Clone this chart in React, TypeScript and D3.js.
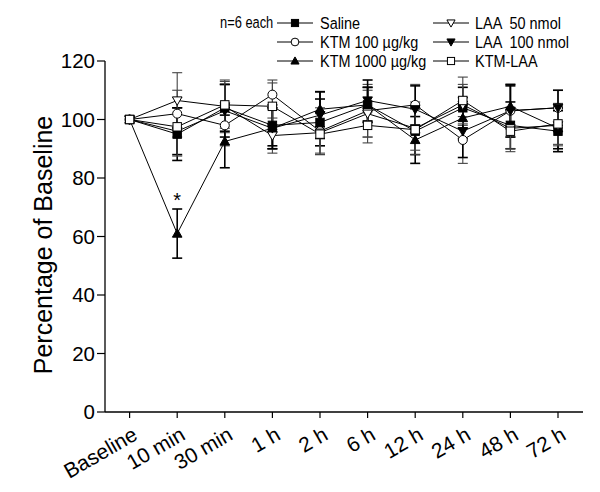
import React from "react";
import * as d3 from "d3";

const categories = ["Baseline", "10 min", "30 min", "1 h", "2 h", "6 h", "12 h", "24 h", "48 h", "72 h"];
const yTicks = [0, 20, 40, 60, 80, 100, 120];

const salineMean = [100, 95, 104, 98, 99, 105, 96, 104, 98, 96];
const salineErr = [0, 9, 8, 7, 8, 6, 8, 7, 8, 7];
const ktm100Mean = [100, 102, 98, 108.5, 96, 103, 105, 93, 103, 104];
const ktm100Err = [0, 8, 7, 5, 8, 9, 7, 8, 9, 6];
const ktm1000Mean = [100, 61, 92.5, 97, 103.5, 105, 93, 100.5, 104.5, 97];
const ktm1000Err = [0, 8.4, 9, 7, 6, 6, 8, 7, 7, 7];
const laa50Mean = [100, 106.5, 104.5, 94.5, 95.5, 102, 97, 105, 97, 98];
const laa50Err = [0, 9.5, 9, 6, 7, 8, 9, 7, 7, 7];
const laa100Mean = [100, 96, 103, 97, 101.5, 106.5, 103.5, 96, 103, 104];
const laa100Err = [0, 8, 9, 7, 8, 7, 8, 9, 9, 6];
const ktmLaaMean = [100, 97.5, 105, 104.5, 95, 98, 96.5, 106.5, 96, 98.5];
const ktmLaaErr = [0, 10, 8, 8, 7, 6, 7, 8, 7, 7];

type Shape = "square" | "circle" | "up" | "down";
const series = [
  { name: "Saline", mean: salineMean, err: salineErr, shape: "square" as Shape, filled: true },
  { name: "KTM 100 µg/kg", mean: ktm100Mean, err: ktm100Err, shape: "circle" as Shape, filled: false },
  { name: "KTM 1000 µg/kg", mean: ktm1000Mean, err: ktm1000Err, shape: "up" as Shape, filled: true },
  { name: "LAA  50 nmol", mean: laa50Mean, err: laa50Err, shape: "down" as Shape, filled: false },
  { name: "LAA  100 nmol", mean: laa100Mean, err: laa100Err, shape: "down" as Shape, filled: true },
  { name: "KTM-LAA", mean: ktmLaaMean, err: ktmLaaErr, shape: "square" as Shape, filled: false },
];

const FONT = "'Liberation Sans', Arial, sans-serif";

function Marker({ shape, filled, x, y, s = 1 }: { shape: Shape; filled: boolean; x: number; y: number; s?: number }) {
  const fill = filled ? "#000" : "#fff";
  const common = { fill, stroke: "#000", strokeWidth: 1 };
  const r = 4.2 * s;
  if (shape === "square") return <rect x={x - r} y={y - r} width={2 * r} height={2 * r} {...common} />;
  if (shape === "circle") return <circle cx={x} cy={y} r={r + 0.3} {...common} />;
  const h = 4.8 * s;
  if (shape === "up")
    return <path d={`M${x},${y - h}L${x + h},${y + h * 0.75}L${x - h},${y + h * 0.75}Z`} {...common} />;
  return <path d={`M${x},${y + h}L${x + h},${y - h * 0.75}L${x - h},${y - h * 0.75}Z`} {...common} />;
}

export default function App() {
  const W = 600, H = 492;
  const x = d3.scalePoint<string>().domain(categories).range([129.6, 558]);
  const y = d3.scaleLinear().domain([0, 120]).range([412, 61]);
  const line = d3.line<number>().x((_, i) => x(categories[i])!).y((d) => y(d));
  const axisX0 = 105;
  const axisX1 = 583;
  const legendCols = [
    { sx: 277, tx: 320 },
    { sx: 433, tx: 475 },
  ];
  const legendRows = [23, 42, 61];
  return (
    <svg width={W} height={H} style={{ display: "block", position: "absolute", left: 0, top: 0 }} fontFamily={FONT}>
      <rect width={W} height={H} fill="#fff" />
      {/* axes */}
      <line x1={axisX0} x2={axisX0} y1={y(0)} y2={y(120)} stroke="#000" strokeWidth={1.3} />
      <line x1={axisX0} x2={axisX1} y1={y(0)} y2={y(0)} stroke="#000" strokeWidth={1.3} />
      {yTicks.map((t) => (
        <g key={t}>
          <line x1={axisX0 - 8} x2={axisX0} y1={y(t)} y2={y(t)} stroke="#000" strokeWidth={1.2} />
          <text x={axisX0 - 10} y={y(t)} dy="0.36em" textAnchor="end" fontSize={20.5}>
            {t}
          </text>
        </g>
      ))}
      {categories.map((c) => (
        <g key={c}>
          <line x1={x(c)} x2={x(c)} y1={y(0)} y2={y(0) + 6} stroke="#000" strokeWidth={1.2} />
          <text
            transform={`translate(${x(c)! + 2},${y(0) + 14}) rotate(-30)`}
            textAnchor="end"
            fontSize={21}
            dy="0.7em"
          >
            {c}
          </text>
        </g>
      ))}
      <text
        transform={`translate(${52},${245}) rotate(-90)`}
        textAnchor="middle"
        fontSize={25}
      >
        Percentage of Baseline
      </text>
      {/* lines */}
      {series.map((s) => (
        <path key={s.name + "l"} d={line(s.mean)!} fill="none" stroke="#000" strokeWidth={1} />
      ))}
      {/* error bars */}
      {series.map((s) =>
        s.mean.map((m, i) =>
          s.err[i] > 0 ? (
            <g key={s.name + "e" + i} stroke={s.filled ? "#000" : "#444"} strokeWidth={s.filled ? 1.6 : 1.1}>
              <line x1={x(categories[i])} x2={x(categories[i])} y1={y(m - s.err[i])} y2={y(m + s.err[i])} />
              <line x1={x(categories[i])! - 5} x2={x(categories[i])! + 5} y1={y(m + s.err[i])} y2={y(m + s.err[i])} />
              <line x1={x(categories[i])! - 5} x2={x(categories[i])! + 5} y1={y(m - s.err[i])} y2={y(m - s.err[i])} />
            </g>
          ) : null
        )
      )}
      {/* markers */}
      {series.map((s) =>
        s.mean.map((m, i) => (
          <Marker key={s.name + "m" + i} shape={s.shape} filled={s.filled} x={x(categories[i])!} y={y(m)} />
        ))
      )}
      <text x={x("10 min")} y={y(ktm1000Mean[1] + ktm1000Err[1]) - 2} textAnchor="middle" fontSize={20}>
        *
      </text>
      {/* legend */}
      <text transform="translate(220,22) scale(0.78,1)" dy="0.35em" fontSize={16.5}>
        n=6 each
      </text>
      {series.map((s, i) => {
        const col = legendCols[Math.floor(i / 3)];
        const ry = legendRows[i % 3];
        return (
          <g key={s.name + "lg"}>
            <line x1={col.sx} x2={col.sx + 36} y1={ry} y2={ry} stroke="#000" strokeWidth={1} />
            <Marker shape={s.shape} filled={s.filled} x={col.sx + 18} y={ry} s={0.85} />
            <text
              transform={`translate(${col.tx},${ry}) scale(0.85,1)`}
              dy="0.35em"
              fontSize={17}
              style={{ whiteSpace: "pre" }}
            >
              {s.name}
            </text>
          </g>
        );
      })}
    </svg>
  );
}
